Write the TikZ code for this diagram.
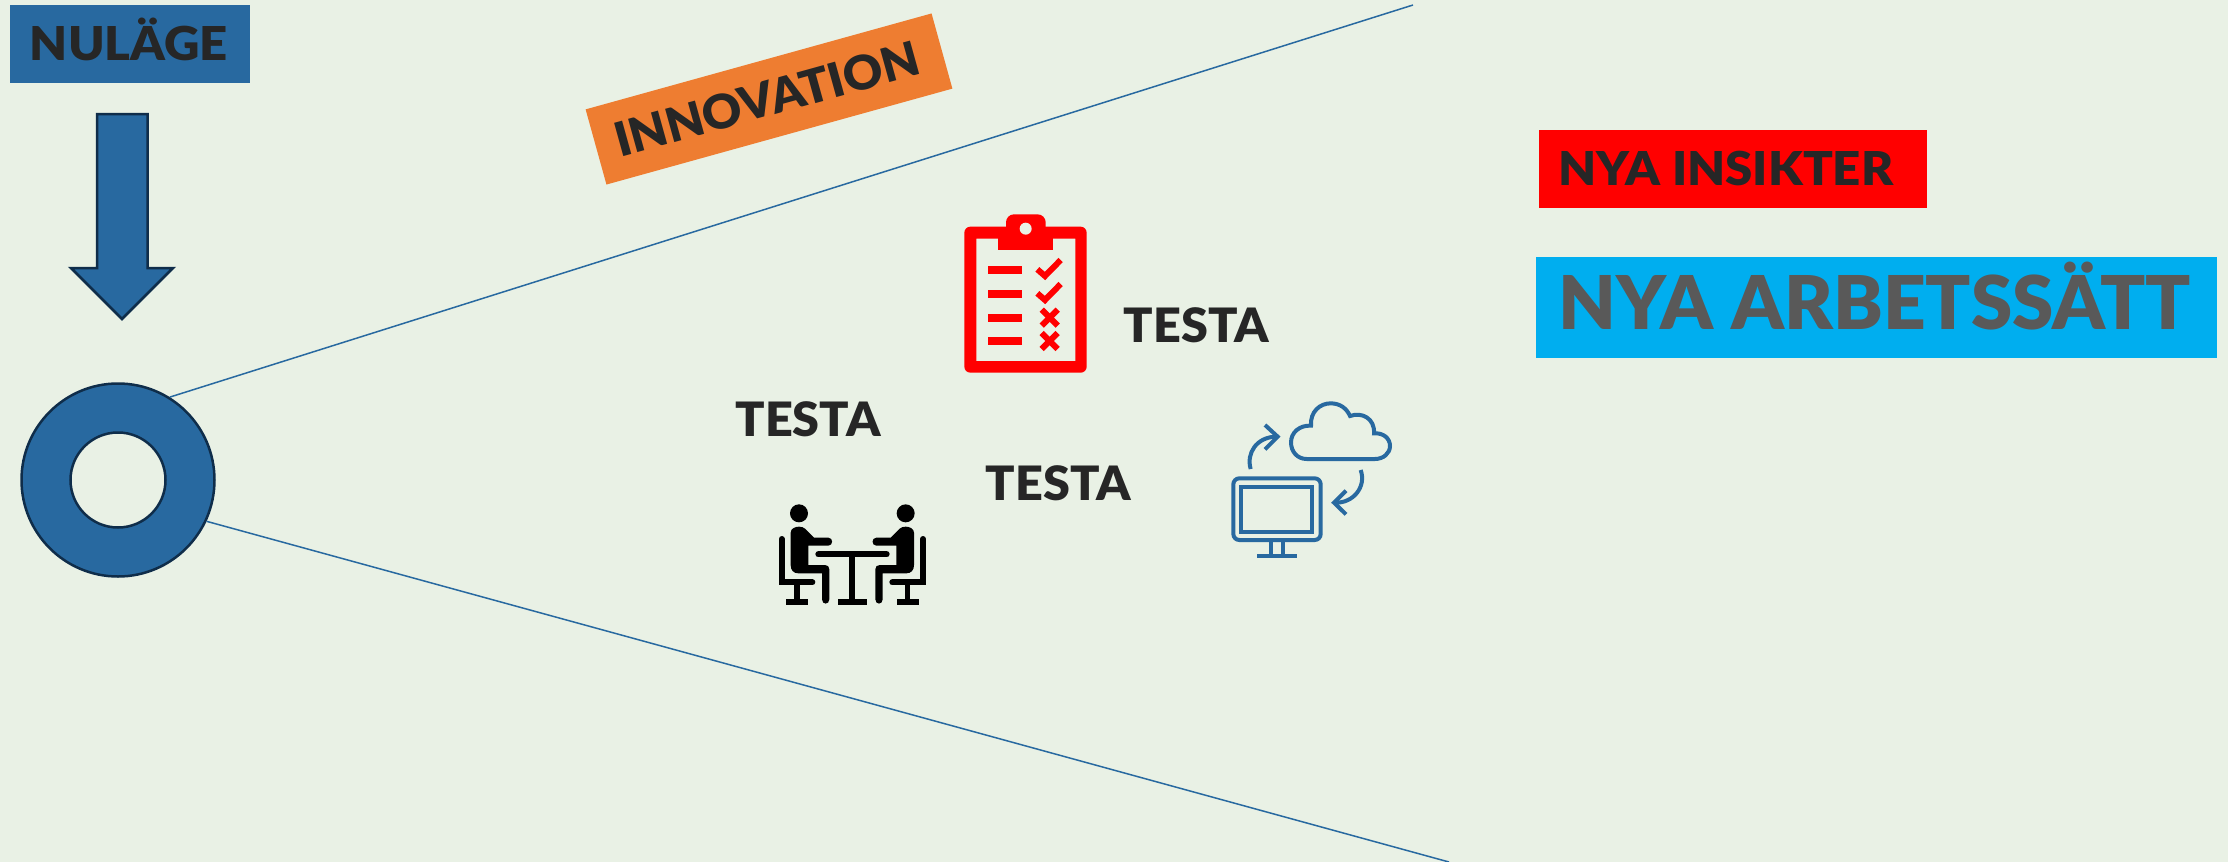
\documentclass[tikz,border=0pt]{standalone}
\usepackage{fontspec}
\usepackage{graphicx}
\setmainfont{Lato}[BoldFont=* Black]
\definecolor{bgc}{HTML}{E9F1E5}
\definecolor{blu}{HTML}{2869A0}
\definecolor{dkb}{HTML}{0F2D4A}
\definecolor{inkc}{HTML}{262626}
\definecolor{gryc}{HTML}{595959}
\definecolor{orc}{HTML}{EE7D31}
\definecolor{skyc}{HTML}{00AEEF}
\definecolor{redc}{HTML}{FF0000}
\newlength{\pxu}\setlength{\pxu}{0.02cm}
\newsavebox{\capbox}
\newcommand{\capfit}[3]{\resizebox{#1\pxu}{#2\pxu}{\bfseries\sbox{\capbox}{#3}\ht\capbox=\fontcharht\font`H \dp\capbox=0pt \usebox{\capbox}}}
\tikzset{
  lbl/.style={inner sep=0pt,outer sep=0pt,anchor=center},
  iconline/.style={draw=blu,line width=4*0.02cm,fill=none},
  bigline/.style={draw=blu,line width=0.03cm},
  seat/.style={draw=black,line width=18*0.02cm/3,line cap=round,fill=none},
}
\newcommand{\sitter}{%
  \fill (147,70) circle (27);
  \fill (122,128) .. controls (122,116) and (135,110) .. (147,110) .. controls (155,110) and (160,112) .. (165,116) -- (192,143) -- (235,143) .. controls (250,143) and (250,167) .. (235,167) -- (175,167) -- (175,225) -- (225,225) .. controls (233,225) and (238,230) .. (238,238) -- (238,328) .. controls (238,345) and (216,345) .. (216,328) -- (216,250) -- (145,250) .. controls (130,250) and (122,240) .. (122,225) -- cycle;
  \draw[seat] (95,147) -- (95,277) -- (187,277);
  \fill (133,277) rectangle (149,335);
  \fill (108,328) rectangle (174,345);
}
\begin{document}
\begin{tikzpicture}[x=0.02cm,y=-0.02cm]
\useasboundingbox (0,0) rectangle (2228,862);
\fill[bgc] (0,0) rectangle (2228,862);
% connector lines
\coordinate (upEnd) at (1413,5);
\coordinate (lowEnd) at (1449,862);
% ring
\node[circle,draw=dkb,fill=blu,line width=0.05cm,minimum size=193*0.02cm,inner sep=0pt] (ring) at (118,480) {};
\node[circle,draw=dkb,fill=bgc,line width=0.05cm,minimum size=95*0.02cm,inner sep=0pt] (hole) at (118,480) {};
\draw[bigline] (ring.58.6) -- (upEnd);
\draw[bigline] (ring.-25.8) -- (lowEnd);
% NULAGE
\node[fill=blu,minimum width=240*0.02cm,minimum height=78*0.02cm,inner sep=0pt] (nulbox) at (130,44) {};
\node[lbl,text=inkc] (nultxt) at (129,43) {\capfit{198}{34}{NULÄGE}};
% arrow
\draw[draw=dkb,fill=blu,line width=0.05cm,miter limit=10] (97,114) -- (147.5,114) -- (147.5,268) -- (173,268) -- (122,319) -- (71,268) -- (97,268) -- cycle;
% innovation
\node[fill=orc,minimum width=359*0.02cm,minimum height=78*0.02cm,inner sep=0pt,rotate=15.5] (innobox) at (769,99) {};
\node[lbl,text=inkc,rotate=15.5] (innotxt) at (767,98.7) {\capfit{314}{34.5}{INNOVATION}};
% nya insikter
\node[fill=redc,minimum width=388*0.02cm,minimum height=78*0.02cm,inner sep=0pt] (redbox) at (1733,169) {};
\node[lbl,text=inkc] (redtxt) at (1726,168) {\capfit{335}{34}{NYA INSIKTER}};
% nya arbetssatt
\node[fill=skyc,minimum width=681*0.02cm,minimum height=101*0.02cm,inner sep=0pt] (skybox) at (1876.5,307.5) {};
\node[lbl,text=gryc] (skytxt) at (1875,302) {\capfit{632}{54}{NYA ARBETSSÄTT}};
% testa
\node[lbl,text=inkc] (t1) at (1196.5,324.8) {\capfit{145}{34.5}{TESTA}};
\node[lbl,text=inkc] (t2) at (808,418.8) {\capfit{145}{34.5}{TESTA}};
\node[lbl,text=inkc] (t3) at (1058.5,483) {\capfit{145}{34.5}{TESTA}};
% clipboard
\begin{scope}[shift={(920,190)},scale=1/3]
  \fill[redc,even odd rule] [rounded corners=0.12cm] (133,110) rectangle (500,548) [sharp corners] (169,146) rectangle (466,513);
  \fill[redc] (235,120) rectangle (400,181);
  \fill[redc,rounded corners=0.16cm] (258,135) -- (258,73) -- (377,73) -- (377,135) -- cycle;
  \fill[bgc] (317,116) circle (18);
  \foreach \yy in {240,312,384,452} \fill[redc] (204,\yy-12) rectangle (306,\yy+12);
  \foreach \yy in {0,72} \draw[redc,line width=18*0.02cm/3] (352,238+\yy) -- (375,258+\yy) -- (422,210+\yy);
  \foreach \yy in {383,453} {
    \draw[redc,line width=18*0.02cm/3] (365,\yy-24) -- (413,\yy+24);
    \draw[redc,line width=18*0.02cm/3] (365,\yy+24) -- (413,\yy-24);
  }
\end{scope}
% people
\begin{scope}[shift={(750,490)},scale=1/3]
  \sitter
  \begin{scope}[xshift=614*0.02cm,xscale=-1]\sitter\end{scope}
  \draw[seat] (205,193) -- (410,193);
  \fill (298,193) rectangle (316,335);
  \fill (263,328) rectangle (352,345);
\end{scope}
% monitor and cloud
\begin{scope}[shift={(1210,390)},scale=1/3]
  \draw[iconline,rounded corners=0.12cm] (70,265) rectangle (332,450);
  \draw[iconline] (94,290) rectangle (307,427);
  \draw[iconline] (183,450) -- (183,497) (219,450) -- (219,497) (142,497) -- (260,497);
  \draw[iconline] (290,207) .. controls (262,207) and (243,185) .. (243,157) .. controls (243,128) and (268,105) .. (303,107) .. controls (300,65) and (330,40) .. (362,40) .. controls (390,40) and (410,55) .. (420,78) .. controls (455,65) and (495,85) .. (492,130) .. controls (520,128) and (540,145) .. (540,168) .. controls (540,190) and (520,207) .. (495,207) -- cycle;
  \draw[iconline] (122,237) .. controls (108,190) and (140,140) .. (200,140);
  \draw[iconline] (165,105) -- (203,140) -- (165,178);
  \draw[iconline] (452,240) .. controls (470,290) and (430,340) .. (375,338);
  \draw[iconline] (408,302) -- (372,338) -- (408,373);
\end{scope}
\end{tikzpicture}
\end{document}
